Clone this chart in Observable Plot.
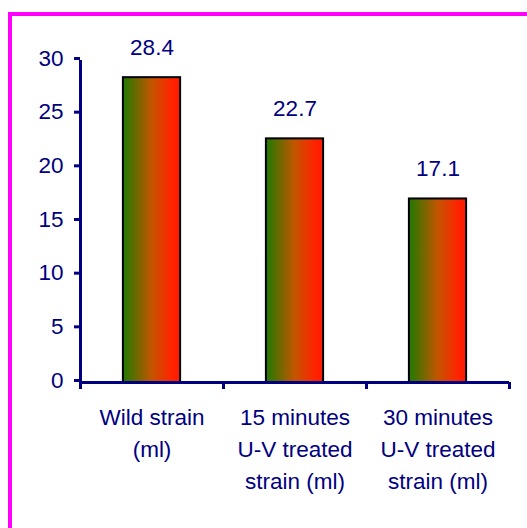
<!DOCTYPE html>
<html>
<head>
<meta charset="utf-8">
<script src="https://cdn.jsdelivr.net/npm/d3@7"></script>
<script src="https://cdn.jsdelivr.net/npm/@observablehq/plot@0.6"></script>
<style>
  html, body { margin: 0; padding: 0; background: #fff; overflow: hidden; }
  #wrap { position: relative; width: 527px; height: 528px; overflow: hidden; }
  #border {
    position: absolute; left: 8px; top: 12px; width: 700px; height: 700px;
    border: 4px solid #ff00ff; box-sizing: border-box;
  }
  #chart { position: absolute; left: 0; top: 0; }
  #chart svg { font-family: "Liberation Sans", Arial, sans-serif; }
</style>
</head>
<body>
<div id="wrap">
  <div id="border"></div>
  <div id="chart"></div>
</div>
<script>
// Strain categories and measured volumes (ml)
const categories = [
  "Wild strain\n(ml)",
  "15 minutes\nU-V treated\nstrain (ml)",
  "30 minutes\nU-V treated\nstrain (ml)"
];
const values = [28.4, 22.7, 17.1];
const yTicks = [0, 5, 10, 15, 20, 25, 30];

const data = categories.map((label, i) => ({label, value: values[i], i}));
const boundaries = d3.range(categories.length + 1);

const ink = "#000080";
const fontSize = 22.5;

// Horizontal green-to-red gradient used to fill each bar
const gradientDefs = () => {
  const defs = d3.create("svg:defs");
  const g = defs.append("linearGradient")
    .attr("id", "barGradient")
    .attr("x1", "0").attr("x2", "1").attr("y1", "0").attr("y2", "0");
  g.append("stop").attr("offset", "0%").attr("stop-color", "#1f7a00");
  g.append("stop").attr("offset", "50%").attr("stop-color", "#c25600");
  g.append("stop").attr("offset", "85%").attr("stop-color", "#ff2400");
  g.append("stop").attr("offset", "100%").attr("stop-color", "#ff1a00");
  return defs.node();
};

const chart = Plot.plot({
  width: 527,
  height: 528,
  marginLeft: 80,
  marginRight: 18,
  marginTop: 60,
  marginBottom: 146,
  style: {background: "transparent", fontSize: fontSize + "px", color: ink},
  x: {type: "linear", domain: [0, categories.length], axis: null},
  y: {domain: [0, 30], axis: null},
  marks: [
    gradientDefs,
    // bars
    Plot.rectY(data, {
      x1: d => d.i + 0.3,
      x2: d => d.i + 0.7,
      y1: 0,
      y2: "value",
      fill: "url(#barGradient)",
      stroke: "#000",
      strokeWidth: 2
    }),
    // value labels above bars
    Plot.text(data, {
      x: d => d.i + 0.5,
      y: "value",
      text: d => d3.format(".1f")(d.value),
      dy: -30,
      fill: ink,
      fontSize
    }),
    // y axis
    Plot.axisY({
      ticks: yTicks,
      label: null,
      tickSize: 6,
      tickPadding: 11,
      strokeWidth: 3,
      stroke: ink,
      fill: ink,
      fontSize,
      dy: -2
    }),
    Plot.ruleX([0], {y1: 0, y2: 30, stroke: ink, strokeWidth: 3}),
    // x axis line and category boundary ticks
    Plot.ruleY([0], {x1: 0, x2: categories.length, stroke: ink, strokeWidth: 3}),
    Plot.ruleX(boundaries, {x: d => d, y1: 0, y2: 0, insetBottom: -7, stroke: ink, strokeWidth: 3}),
    // category labels
    Plot.text(data, {
      x: d => d.i + 0.5,
      y: 0,
      text: "label",
      lineAnchor: "top",
      lineHeight: 1.42,
      dy: 20,
      fill: ink,
      fontSize
    })
  ]
});

document.getElementById("chart").appendChild(chart);
</script>
</body>
</html>
